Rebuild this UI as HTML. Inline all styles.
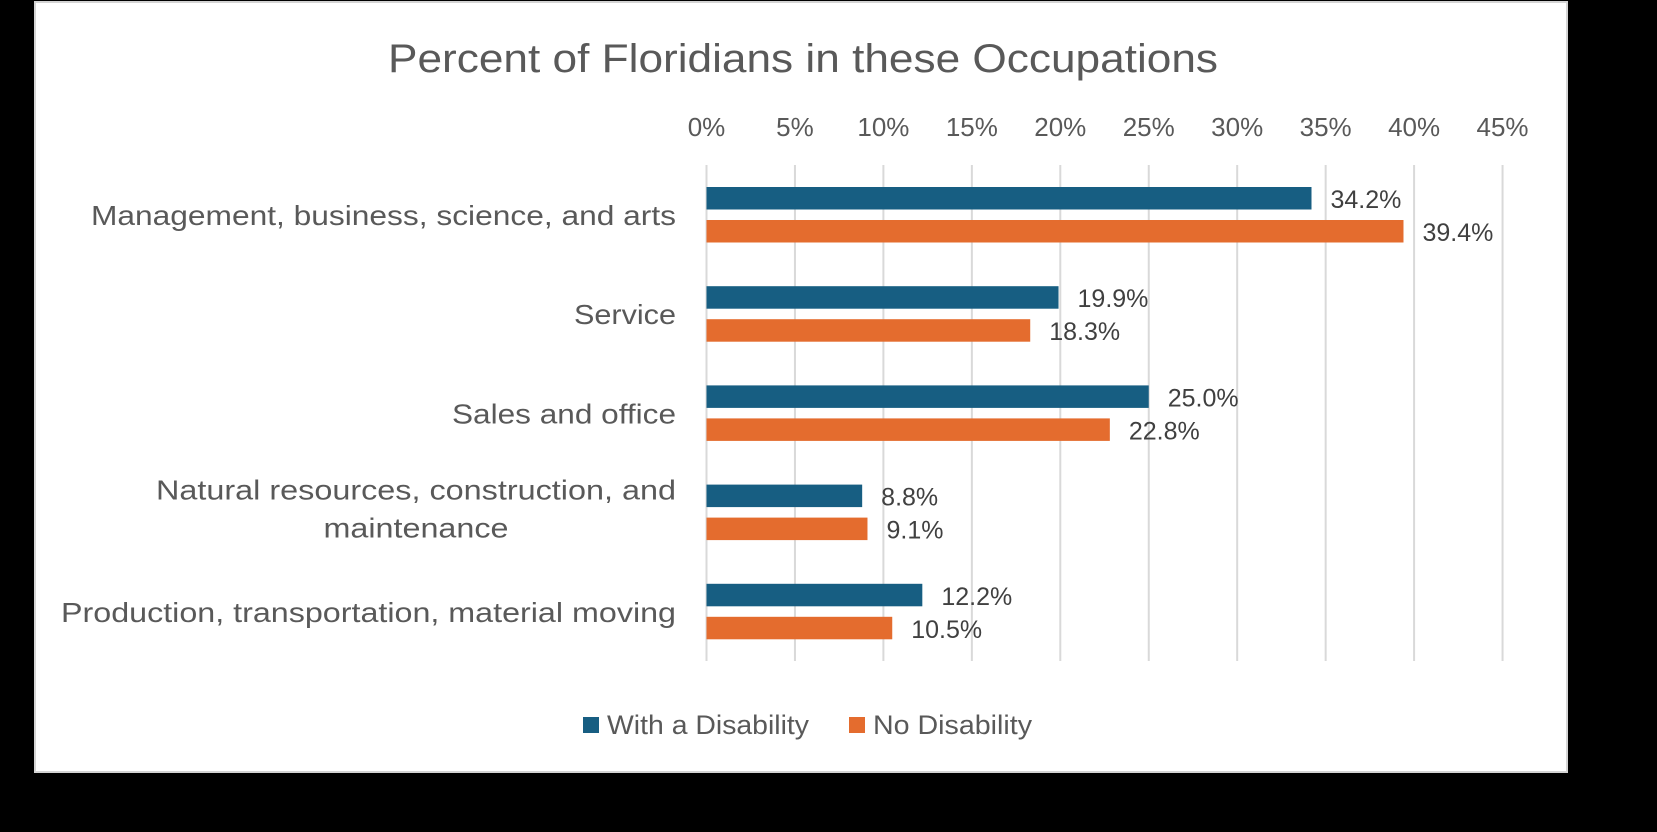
<!DOCTYPE html>
<html><head><meta charset="utf-8"><style>
html,body{margin:0;padding:0;background:#000;}
svg{display:block;font-family:"Liberation Sans",sans-serif;}
</style></head><body>
<svg width="1657" height="832" viewBox="0 0 1657 832">
<rect x="0" y="0" width="1657" height="832" fill="#000"/>
<rect x="35" y="2" width="1532" height="770" fill="#fff" stroke="#d4d4d4" stroke-width="2"/>
<text x="803" y="72" text-anchor="middle" font-size="40" fill="#595959" textLength="830" lengthAdjust="spacingAndGlyphs">Percent of Floridians in these Occupations</text>
<g id="grid"></g><g id="bars"></g>
<g>
<rect x="583" y="717" width="16" height="16" fill="#175e82"/>
<text x="607" y="734" font-size="27" fill="#595959" textLength="202" lengthAdjust="spacingAndGlyphs">With a Disability</text>
<rect x="849" y="717" width="16" height="16" fill="#e46c2e"/>
<text x="873" y="734" font-size="27" fill="#595959" textLength="159" lengthAdjust="spacingAndGlyphs">No Disability</text>
</g>
</svg>
<script>
const categories=["Management, business, science, and arts","Service","Sales and office","Natural resources, construction, and maintenance","Production, transportation, material moving"];
const withDisability=[34.2,19.9,25.0,8.8,12.2];
const noDisability=[39.4,18.3,22.8,9.1,10.5];
const ticks=[0,5,10,15,20,25,30,35,40,45];
const NS="http://www.w3.org/2000/svg";
const x0=706.5,pxPer=17.69;
const xs=v=>x0+v*pxPer;
const yc=i=>215+i*99.2;
const grid=document.getElementById('grid'),bars=document.getElementById('bars');
function mk(tag,attrs,parent){const e=document.createElementNS(NS,tag);for(const k in attrs)e.setAttribute(k,attrs[k]);parent.appendChild(e);return e;}
ticks.forEach(t=>{
 const l=mk('line',{x1:xs(t),x2:xs(t),y1:165,y2:661,stroke:'#d9d9d9','stroke-width':2},grid);
 
 
 const tx=mk('text',{x:xs(t),y:136,'text-anchor':'middle','font-size':26,fill:'#595959'},grid);
 tx.textContent=t+'%';
 
 
});
const labelLines=[["Management, business, science, and arts"],["Service"],["Sales and office"],["Natural resources, construction, and","maintenance"],["Production, transportation, material moving"]];
const labelLens=[{0:585},{0:102},{0:224},{0:520,1:185},{0:615}];
categories.forEach((c,i)=>{
 const y=yc(i);
 const lines=labelLines[i];
 lines.forEach((ln,j)=>{
  const ty=lines.length===1?y+10:y-13+j*38;
  const tx=mk('text',{x:lines.length===2&&j===1?416:676,y:ty,'text-anchor':lines.length===2&&j===1?'middle':'end','font-size':28,fill:'#595959',textLength:labelLens[i][j],lengthAdjust:'spacingAndGlyphs'},grid);
  tx.textContent=ln;
  
  
 });
 const b1=mk('rect',{x:x0,y:y-28,width:xs(withDisability[i])-x0,height:22.5,fill:'#175e82'},bars);
 
 
 const b2=mk('rect',{x:x0,y:y+5,width:xs(noDisability[i])-x0,height:22.5,fill:'#e46c2e'},bars);
 
 
 const v1=mk('text',{x:xs(withDisability[i])+19,y:y-7,'font-size':25,fill:'#404040'},bars);
 v1.textContent=withDisability[i].toFixed(1)+'%';
 
 
 const v2=mk('text',{x:xs(noDisability[i])+19,y:y+26,'font-size':25,fill:'#404040'},bars);
 v2.textContent=noDisability[i].toFixed(1)+'%';
 
 
});
</script>
</body></html>
